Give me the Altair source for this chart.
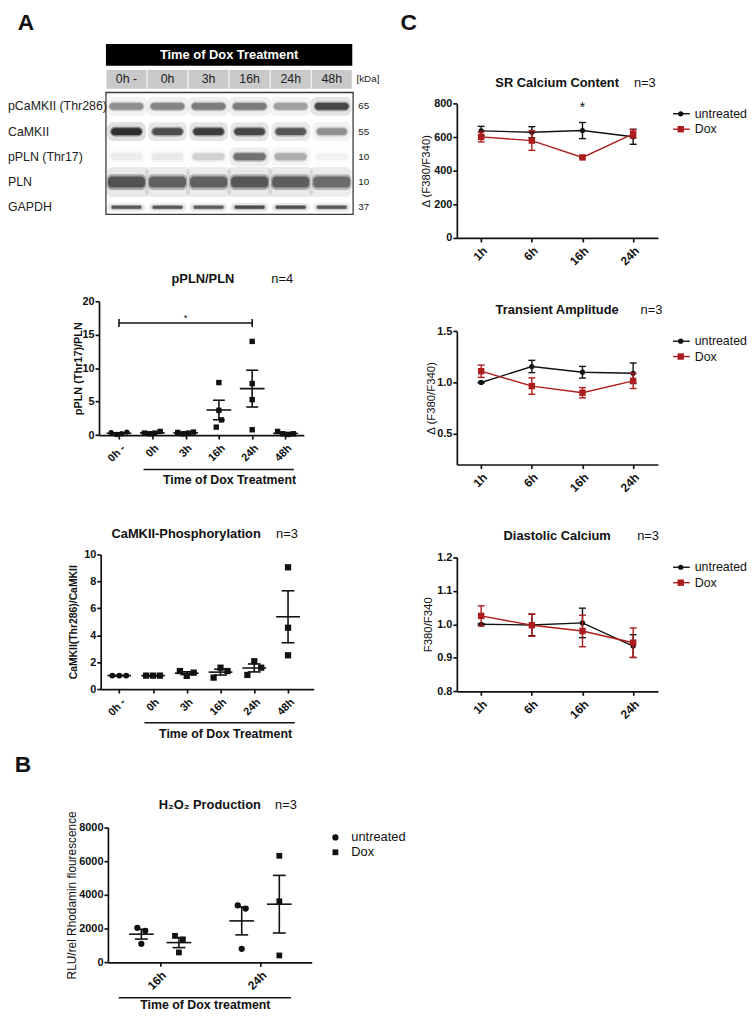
import altair as alt
import numpy as np
import pandas as pd

FONT = "Liberation Sans"
BLACK = "#111111"
RED = "#ad1c1c"
W, H = 748, 1004

# ---------------- Panel A: western blot ----------------
lanes = ["0h -", "0h", "3h", "16h", "24h", "48h"]
proteins = ["pCaMKII (Thr286)", "CaMKII", "pPLN (Thr17)", "PLN", "GAPDH"]
kda = ["65", "55", "10", "10", "37"]
band_pcamkii = [0.40, 0.46, 0.50, 0.50, 0.34, 0.80]
band_camkii = [1.00, 0.75, 0.88, 0.80, 0.70, 0.40]
band_ppln = [0.06, 0.07, 0.15, 0.55, 0.28, 0.04]
band_pln = [0.72, 0.64, 0.64, 0.70, 0.66, 0.58]
band_gapdh = [0.68, 0.68, 0.66, 0.76, 0.74, 0.68]

# ---------------- Panel A: quantification ----------------
ppln_values = [
    [0.35, 0.10, 0.20, 0.45],
    [0.30, 0.20, 0.30, 0.55],
    [0.40, 0.20, 0.30, 0.45],
    [1.19, 3.70, 7.85, 2.27],
    [14.0, 7.70, 5.30, 0.80],
    [0.55, 0.20, 0.10, 0.20],
]
camk_values = [
    [1.00, 1.00, 1.00],
    [1.00, 1.00, 1.00],
    [1.34, 0.98, 1.22],
    [0.85, 1.59, 1.34],
    [1.05, 2.07, 1.59],
    [9.05, 4.56, 2.51],
]

# ---------------- Panel B ----------------
h2o2_times = ["16h", "24h"]
h2o2_untreated = [[2045, 1868, 1101], [3381, 3185, 806]]
h2o2_dox = [[1573, 1357, 590], [6311, 3617, 413]]

# ---------------- Panel C ----------------
ca_times = ["1h", "6h", "16h", "24h"]
series = ["untreated", "Dox"]
sr_mean = {"untreated": [638, 630, 640, 603], "Dox": [602, 580, 480, 620]}
sr_sem = {"untreated": [27, 33, 48, 45], "Dox": [30, 58, 6, 25]}
ta_mean = {"untreated": [1.00, 1.156, 1.10, 1.09], "Dox": [1.11, 0.965, 0.90, 1.016]}
ta_sem = {"untreated": [0.005, 0.06, 0.057, 0.10], "Dox": [0.06, 0.08, 0.05, 0.075]}
dc_mean = {"untreated": [1.00, 0.998, 1.004, 0.935], "Dox": [1.025, 0.997, 0.98, 0.945]}
dc_sem = {"untreated": [0.002, 0.032, 0.044, 0.034], "Dox": [0.03, 0.033, 0.047, 0.044]}

# ---------------- layout (scale domains / pixel ranges) ----------------
PANELS = {
    "blot": dict(xd=[0, 6], xr=[99, 348], yd=[-3, 5], yr=[4.75, 208.75]),
    "ppln": dict(xd=[-0.6, 5.55], xr=[92, 299], yd=[0, 20], yr=[426.3, 291]),
    "camk": dict(xd=[-0.55, 5.76], xr=[93.7, 309], yd=[0, 10], yr=[683, 547]),
    "h2o2": dict(xd=[-0.52, 1.51], xr=[101, 307], yd=[0, 8000], yr=[959.3, 822.7]),
    "sr": dict(xd=[-0.48, 3.49], xr=[453.7, 657], yd=[0, 800], yr=[227, 91.3]),
    "ta": dict(xd=[-0.48, 3.49], xr=[453.7, 657], yd=[0.2, 1.5], yr=[456, 321.3]),
    "dc": dict(xd=[-0.48, 3.49], xr=[453.7, 657], yd=[0.8, 1.2], yr=[685.3, 549.7]),
}


def sc(p, ax):
    P = PANELS[p]
    return alt.Scale(domain=P[ax + "d"], range=P[ax + "r"], nice=False, zero=False)


def ppu(p, ax):
    P = PANELS[p]
    d, r = P[ax + "d"], P[ax + "r"]
    return abs(r[1] - r[0]) / (d[1] - d[0])


def X(p, field="x", axis=None):
    return alt.X(f"{field}:Q", scale=sc(p, "x"), axis=axis)


def Y(p, field="y", axis=None):
    return alt.Y(f"{field}:Q", scale=sc(p, "y"), axis=axis)


def y_axis(p, values, title, title_bold=False, title_size=11, pad=0.0, fmt=None):
    P = PANELS[p]
    kw = dict(orient="left", offset=-P["xr"][0], values=values, title=title, grid=False,
              domainColor=BLACK, domainWidth=1.7, tickColor=BLACK, tickWidth=1.7, tickSize=4,
              labelFont=FONT, labelFontSize=11, labelFontWeight="bold", labelColor=BLACK,
              labelPadding=1, labelOverlap=False, labelFlush=False,
              titleFont=FONT, titleFontSize=title_size,
              titleFontWeight="bold" if title_bold else "normal",
              titleColor=BLACK, titlePadding=pad)
    if fmt:
        kw["format"] = fmt
    return alt.Axis(**kw)


def x_axis(p, labels, size=11):
    P = PANELS[p]
    expr = "[" + ",".join("'%s'" % l for l in labels) + "][datum.value]"
    return alt.Axis(orient="bottom", offset=P["yr"][0] - H, values=list(range(len(labels))),
                    labelExpr=expr, labelAngle=-45, title=None, grid=False,
                    domainColor=BLACK, domainWidth=1.7, tickColor=BLACK, tickWidth=1.7, tickSize=4,
                    labelFont=FONT, labelFontSize=size, labelFontWeight="bold", labelColor=BLACK,
                    labelPadding=3, labelOverlap=False, labelFlush=False)


def texts(p, rows, size=12, weight="normal", color=BLACK, align="center", baseline="middle"):
    df = pd.DataFrame(rows, columns=["x", "y", "text"])
    return alt.Chart(df).mark_text(font=FONT, fontSize=size, fontWeight=weight, color=color,
                                   align=align, baseline=baseline).encode(
        x=X(p), y=Y(p), text="text:N")


def hrule(p, x, x2, y, width=1.6, color=BLACK):
    df = pd.DataFrame({"x": [x], "x2": [x2], "y": [y]})
    return alt.Chart(df).mark_rule(color=color, strokeWidth=width).encode(
        x=X(p), x2=alt.X2("x2"), y=Y(p))


def swarm(vals, px_y, step_px, thresh=8.0):
    idx = sorted(range(len(vals)), key=lambda i: vals[i])
    clusters = []
    for i in idx:
        if clusters and (vals[i] - vals[clusters[-1][-1]]) * px_y < thresh:
            clusters[-1].append(i)
        else:
            clusters.append([i])
    off = [0.0] * len(vals)
    for c in clusters:
        c = sorted(c)
        for j, i in enumerate(c):
            off[i] = (j - (len(c) - 1) / 2) * step_px
    return off


def mean_sem(vals):
    a = np.asarray(vals, float)
    return a.mean(), a.std(ddof=1) / np.sqrt(len(a))


def dot_layers(p, groups, step_px, xax, yax, msizes, mean_w=25, cap_w=12):
    ppx, ppy = ppu(p, "x"), ppu(p, "y")
    pts, stats, caps = [], [], []
    for xc, vals, shape in groups:
        offs = swarm(vals, ppy, step_px)
        for v, o in zip(vals, offs):
            pts.append({"x": xc + o / ppx, "y": v, "shape": shape, "size": msizes[shape]})
        m, s = mean_sem(vals)
        stats.append({"x": xc, "m": m, "lo": m - s, "hi": m + s})
        caps += [{"x": xc, "y": m - s}, {"x": xc, "y": m + s}]
    pts, stats, caps = pd.DataFrame(pts), pd.DataFrame(stats), pd.DataFrame(caps)
    mean_l = alt.Chart(stats).mark_tick(orient="horizontal", size=mean_w, thickness=1.6,
                                        color=BLACK, opacity=1).encode(
        x=X(p, axis=xax), y=Y(p, "m", axis=yax))
    sem_l = alt.Chart(stats).mark_rule(color=BLACK, strokeWidth=1.6).encode(
        x=X(p), y=Y(p, "lo"), y2=alt.Y2("hi"))
    cap_l = alt.Chart(caps).mark_tick(orient="horizontal", size=cap_w, thickness=1.6,
                                      color=BLACK, opacity=1).encode(x=X(p), y=Y(p))
    dot_l = alt.Chart(pts).mark_point(filled=True, opacity=1, color=BLACK, strokeWidth=0).encode(
        x=X(p), y=Y(p), shape=alt.Shape("shape:N", scale=None), size=alt.Size("size:Q", scale=None))
    return [mean_l, sem_l, cap_l, dot_l]


# ================= Panel A: blot =================
ROW_PX = 25.5
BAND_STYLE = [(0.88, 10), (0.80, 10), (0.84, 10), (0.96, 16), (0.78, 4.5)]
band_rows, haze_rows, haze2_rows = [], [], []
for ri, vals in enumerate([band_pcamkii, band_camkii, band_ppln, band_pln, band_gapdh]):
    wf, hp = BAND_STYLE[ri]
    m = (1 - wf) / 2
    hh = hp / 2 / ROW_PX
    for li, v in enumerate(vals):
        band_rows.append({"x": li + m + 0.03, "x2": li + 1 - m - 0.03,
                          "y": ri + 0.5 - 0.7 * hh, "y2": ri + 0.5 + 0.7 * hh, "a": 0.85 * v})
        haze_rows.append({"x": li + m, "x2": li + 1 - m,
                          "y": ri + 0.5 - hh, "y2": ri + 0.5 + hh, "a": 0.45 * v})
        haze2_rows.append({"x": max(0.02, li + m - 0.07), "x2": min(5.98, li + 1 - m + 0.07),
                           "y": ri + 0.5 - 1.9 * hh, "y2": ri + 0.5 + 1.9 * hh, "a": 0.14 * v})

L = []
L.append(alt.Chart(pd.DataFrame({"x": [0], "x2": [6], "y": [-1.97], "y2": [-1.11]}))
         .mark_rect(color="black").encode(x=X("blot"), x2=alt.X2("x2"), y=Y("blot"), y2=alt.Y2("y2")))
L.append(texts("blot", [(3, -1.54, "Time of Dox Treatment")], size=13, weight="bold", color="white"))
lane_df = pd.DataFrame({"x": [i + 0.012 for i in range(6)], "x2": [i + 0.988 for i in range(6)],
                        "y": [-0.94] * 6, "y2": [-0.2] * 6})
L.append(alt.Chart(lane_df).mark_rect(color="#c9c9c9").encode(
    x=X("blot"), x2=alt.X2("x2"), y=Y("blot"), y2=alt.Y2("y2")))
L.append(texts("blot", [(i + 0.5, -0.57, l) for i, l in enumerate(lanes)], size=12.5, color="#222222"))
L.append(texts("blot", [(6.1, -0.57, "[kDa]")], size=10, color="#222222", align="left"))
for rows, rad in ((haze2_rows, 6), (haze_rows, 5), (band_rows, 4)):
    L.append(alt.Chart(pd.DataFrame(rows)).mark_rect(color="#1e1e1e", cornerRadius=rad).encode(
        x=X("blot"), x2=alt.X2("x2"), y=Y("blot"), y2=alt.Y2("y2"),
        opacity=alt.Opacity("a:Q", scale=None)))
L.append(alt.Chart(pd.DataFrame({"x": [0], "x2": [6.02], "y": [-0.05], "y2": [4.78]}))
         .mark_rect(fillOpacity=0, stroke="#3a3a3a", strokeWidth=1.3).encode(
    x=X("blot"), x2=alt.X2("x2"), y=Y("blot"), y2=alt.Y2("y2")))
L.append(texts("blot", [(-2.386, i + 0.5, p) for i, p in enumerate(proteins)],
               size=12.5, color="#222222", align="left"))
L.append(texts("blot", [(6.145, i + 0.5, k) for i, k in enumerate(kda)],
               size=10, color="#222222", align="left"))
L.append(texts("blot", [(-1.95, -2.794, "A")], size=23, weight="bold"))

# ================= Panel A: pPLN/PLN =================
ppln_groups = [(i, v, "circle" if i == 0 else "square") for i, v in enumerate(ppln_values)]
L += dot_layers("ppln", ppln_groups, 5.3, x_axis("ppln", lanes),
                y_axis("ppln", [0, 5, 10, 15, 20], "pPLN (Thr17)/PLN", title_bold=True, pad=-1.5),
                {"circle": 30, "square": 30}, mean_w=25, cap_w=12)
L.append(texts("ppln", [(2.52, 23.25, "pPLN/PLN")], size=13, weight="bold"))
L.append(texts("ppln", [(4.9, 23.25, "n=4")], size=13))
L.append(hrule("ppln", 0, 4, 16.75))
L.append(alt.Chart(pd.DataFrame({"x": [0, 4], "y": [16.75, 16.75]})).mark_tick(
    orient="vertical", size=8, thickness=1.6, color=BLACK, opacity=1).encode(x=X("ppln"), y=Y("ppln")))
L.append(texts("ppln", [(2, 17.45, "*")], size=10))
L.append(hrule("ppln", 0.737, 5.25, -5.13, width=1.4))
L.append(texts("ppln", [(3.32, -6.76, "Time of Dox Treatment")], size=12.5, weight="bold"))

# ================= Panel A: CaMKII phosphorylation =================
camk_groups = [(i, v, "circle" if i == 0 else "square") for i, v in enumerate(camk_values)]
L += dot_layers("camk", camk_groups, 7.0, x_axis("camk", lanes),
                y_axis("camk", [0, 2, 4, 6, 8, 10], "CaMKII(Thr286)/CaMKII", title_bold=True,
                       title_size=10.5, pad=5.0),
                {"circle": 36, "square": 40}, mean_w=24, cap_w=13)
L.append(texts("camk", [(1.98, 11.54, "CaMKII-Phosphorylation")], size=13, weight="bold"))
L.append(texts("camk", [(4.97, 11.54, "n=3")], size=13))
L.append(hrule("camk", 0.748, 5.2, -2.5, width=1.4))
L.append(texts("camk", [(3.15, -3.38, "Time of Dox Treatment")], size=12.5, weight="bold"))

# ================= Panel B: H2O2 =================
shift = 19 / ppu("h2o2", "x")
h2o2_groups = []
for i in range(len(h2o2_times)):
    h2o2_groups.append((i - shift, h2o2_untreated[i], "circle"))
    h2o2_groups.append((i + shift, h2o2_dox[i], "square"))
L += dot_layers("h2o2", h2o2_groups, 8.0, x_axis("h2o2", h2o2_times, size=12),
                y_axis("h2o2", [0, 2000, 4000, 6000, 8000], "RLU/rel Rhodamin flourescence",
                       title_size=12, pad=0.5, fmt="d"),
                {"circle": 40, "square": 34}, mean_w=25, cap_w=13)
L.append(texts("h2o2", [(0.495, 9329, "H\u2082O\u2082 Production")], size=13, weight="bold"))
L.append(texts("h2o2", [(1.253, 9329, "n=3")], size=13))
leg_b = pd.DataFrame({"x": [1.746, 1.746], "y": [7397, 6518], "shape": ["circle", "square"],
                      "size": [40, 34]})
L.append(alt.Chart(leg_b).mark_point(filled=True, opacity=1, color=BLACK, strokeWidth=0).encode(
    x=X("h2o2"), y=Y("h2o2"), shape=alt.Shape("shape:N", scale=None), size=alt.Size("size:Q", scale=None)))
L.append(texts("h2o2", [(1.904, 7397, series[0]), (1.904, 6518, series[1])], size=13, align="left"))
L.append(hrule("h2o2", -0.412, 1.303, -2091, width=1.4))
L.append(texts("h2o2", [(0.45, -2500, "Time of Dox treatment")], size=12.5, weight="bold"))
L.append(texts("h2o2", [(-1.367, 11672, "B")], size=23, weight="bold"))


# ================= Panel C =================
def line_panel(p, means, sems, yvals, ytitle, pad, fmt, title, n_x):
    P = PANELS[p]
    layers = []
    styles = {"untreated": (BLACK, "circle", 28), "Dox": (RED, "square", 42)}
    for k, name in enumerate(series):
        color, shape, msize = styles[name]
        mm = np.asarray(means[name], float)
        ss = np.asarray(sems[name], float)
        df = pd.DataFrame({"x": range(len(ca_times)), "m": mm, "lo": mm - ss, "hi": mm + ss})
        caps = pd.DataFrame({"x": list(range(len(ca_times))) * 2, "y": list(mm - ss) + list(mm + ss)})
        layers.append(alt.Chart(df).mark_line(color=color, strokeWidth=1.4).encode(
            x=X(p, axis=x_axis(p, ca_times, size=12) if k == 0 else None),
            y=Y(p, "m", axis=y_axis(p, yvals, ytitle, title_size=11.5, pad=pad, fmt=fmt) if k == 0 else None)))
        layers.append(alt.Chart(df).mark_rule(color=color, strokeWidth=1.4).encode(
            x=X(p), y=Y(p, "lo"), y2=alt.Y2("hi")))
        layers.append(alt.Chart(caps).mark_tick(orient="horizontal", size=7, thickness=1.4,
                                                color=color, opacity=1).encode(x=X(p), y=Y(p)))
        layers.append(alt.Chart(df).mark_point(shape=shape, filled=True, size=msize, color=color,
                                               opacity=1, strokeWidth=0).encode(x=X(p), y=Y(p, "m")))
    d0, d1 = P["yd"]
    title_y = d0 + 1.157 * (d1 - d0)
    layers.append(texts(p, [(1.5, title_y, title)], size=13, weight="bold"))
    layers.append(texts(p, [(n_x, title_y, "n=3")], size=13))
    leg = pd.DataFrame({"x": [3.786, 3.786], "x2": [4.118, 4.118],
                        "xp": [3.939, 3.939], "xt": [4.215, 4.215],
                        "y": [d0 + 0.925 * (d1 - d0), d0 + 0.81 * (d1 - d0)],
                        "color": [BLACK, RED], "shape": ["circle", "square"], "size": [28, 42],
                        "text": series})
    layers.append(alt.Chart(leg).mark_rule(strokeWidth=1.4).encode(
        x=X(p), x2=alt.X2("x2"), y=Y(p), color=alt.Color("color:N", scale=None)))
    layers.append(alt.Chart(leg).mark_point(filled=True, opacity=1, strokeWidth=0).encode(
        x=X(p, "xp"), y=Y(p), color=alt.Color("color:N", scale=None),
        shape=alt.Shape("shape:N", scale=None), size=alt.Size("size:Q", scale=None)))
    layers.append(alt.Chart(leg).mark_text(font=FONT, fontSize=12.5, align="left", baseline="middle",
                                           color=BLACK).encode(x=X(p, "xt"), y=Y(p), text="text:N"))
    return layers


L += line_panel("sr", sr_mean, sr_sem, [0, 200, 400, 600, 800], "\u0394 (F380/F340)", 2.0, "d",
                "SR Calcium Content", 3.23)
L.append(texts("sr", [(2, 772, "*")], size=14))
L.append(texts("sr", [(-1.431, 1279.3, "C")], size=23, weight="bold"))
L += line_panel("ta", ta_mean, ta_sem, [0.5, 1.0, 1.5], "\u0394 (F380/F340)", 0.0, ".1f",
                "Transient Amplitude", 3.36)
L += line_panel("dc", dc_mean, dc_sem, [0.8, 0.9, 1.0, 1.1, 1.2], "F380/F340", 3.5, ".1f",
                "Diastolic Calcium", 3.295)

chart = (
    alt.layer(*L)
    .resolve_scale(x="independent", y="independent")
    .properties(width=W, height=H, autosize=alt.AutoSizeParams(type="none"), padding=0,
                background="white")
    .configure(font=FONT)
    .configure_view(stroke=None)
)

chart.save("out.html", embed_options={"renderer": "svg", "actions": False})
